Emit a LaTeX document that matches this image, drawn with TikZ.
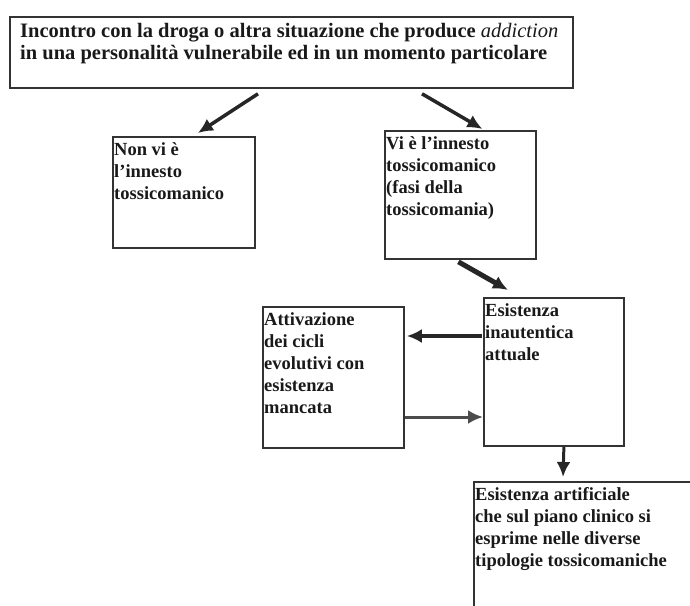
\documentclass[tikz,border=0pt]{standalone}
\usepackage{fontspec}
\setmainfont{Liberation Serif}
\usetikzlibrary{positioning, calc, arrows.meta}

\begin{document}
\begin{tikzpicture}[
  x=1pt, y=-1pt,
  >={Latex[length=15pt, width=14pt]},
  box/.style = {draw=black!80, line width=1.8pt, rectangle, anchor=north west, inner sep=0pt},
  txt/.style = {anchor=north west, align=left, text=black!90, inner xsep=2pt, inner ysep=6pt,
                font=\bfseries\fontsize{18.5}{22}\selectfont},
  arr/.style = {->, draw=black!85, line width=3.5pt},
]
  \clip (0,0) rectangle (690,605);

  \node[box, minimum width=563pt, minimum height=71pt] (top)   at (9,16)   {};
  \node[box, minimum width=142pt, minimum height=111pt] (nonvi) at (112,136) {};
  \node[box, minimum width=151pt, minimum height=128pt] (vi)    at (384,130) {};
  \node[box, minimum width=140pt, minimum height=148pt] (esist) at (483,297) {};
  \node[box, minimum width=141pt, minimum height=141pt] (attiv) at (262,306) {};
  \node[box, minimum width=260pt, minimum height=200pt] (artif) at (473,481) {};

  \node[txt, inner ysep=3pt, font=\bfseries\fontsize{20.5}{22}\selectfont] (top-t) at ($(top.north west)+(9,4)$)
    {Incontro con la droga o altra situazione che produce \textmd{\textit{addiction}}\\
     in una personalità vulnerabile ed in un momento particolare};
  \node[txt] (nonvi-t) at (nonvi.north west) {Non vi è\\l’innesto\\tossicomanico};
  \node[txt] (vi-t)    at (vi.north west)    {Vi è l’innesto\\tossicomanico\\(fasi della\\tossicomania)};
  \node[txt] (esist-t) at (esist.north west) {Esistenza\\inautentica\\attuale};
  \node[txt] (attiv-t) at (attiv.north west) {Attivazione\\dei cicli\\evolutivi con\\esistenza\\mancata};
  \node[txt] (artif-t) at (artif.north west) {Esistenza artificiale\\che sul piano clinico si\\esprime nelle diverse\\tipologie tossicomaniche};

  \draw[arr] ($(top.south west)+(249,5)$)   -- ($(nonvi.north)+(14,-3)$);
  \draw[arr] ($(top.south west)+(413,5)$)   -- ($(vi.north)+(22,-1)$);
  \draw[arr, line width=5pt] ($(vi.south)+(-2,2)$) -- ($(esist.north west)+(25,-7)$);
  \draw[arr, line width=4.5pt] ($(esist.north west)+(-1,39)$) -- ($(attiv.north east)+(2,30)$);
  \draw[arr, line width=3pt, draw=black!70] ($(attiv.north east)+(0,111)$) -- ($(esist.north west)+(0,120)$);
  \draw[arr, line width=3pt] ($(esist.south)+(10,0)$) -- ($(artif.north west)+(90,-4)$);
\end{tikzpicture}
\end{document}
